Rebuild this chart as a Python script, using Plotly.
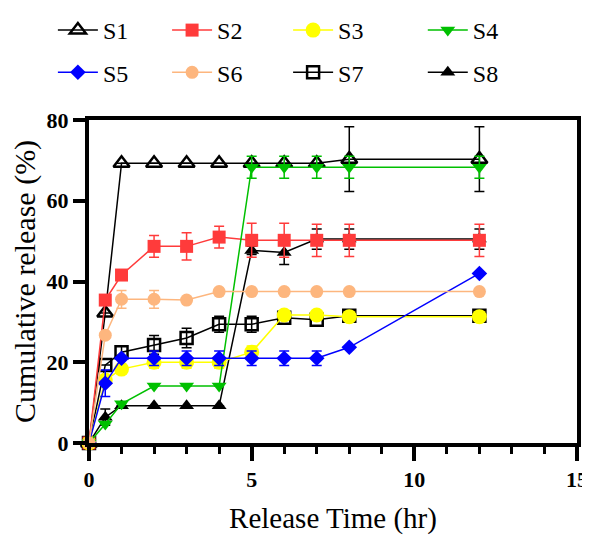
import plotly.graph_objects as go

time = [0, 0.5, 1, 2, 3, 4, 5, 6, 7, 8, 12]

s1 = [0, 32.2, 69.3, 69.3, 69.3, 69.3, 69.3, 69.3, 69.3, 70.3, 70.3]
s1_err = [None, None, None, None, None, None, None, None, None, 8, 8]
s2 = [0, 35.4, 41.6, 48.7, 48.7, 51.0, 50.2, 50.2, 50.2, 50.2, 50.2]
s2_err = [None, None, None, 2.7, 3.4, 2.7, 4.2, 4.2, 4.0, 4.0, 4.0]
s3 = [0, 15.6, 18.3, 20.0, 20.0, 20.0, 22.5, 31.7, 31.7, 31.3, 31.3]
s3_err = [None, None, None, 1.5, 1.5, 1.5, 1.5, None, None, None, None]
s4 = [0, 4.7, 9.7, 14.1, 14.1, 14.1, 68.3, 68.3, 68.3, 68.3, 68.3]
s4_err = [None, None, None, None, None, None, 2.7, 2.7, 2.7, 2.7, 2.7]
s5 = [0, 14.8, 21.0, 21.0, 21.0, 21.0, 21.0, 21.0, 21.0, 23.7, 42.0]
s5_err = [None, 3.3, None, 1.8, 1.8, 1.8, 1.8, 1.8, 1.8, None, None]
s6 = [0, 26.7, 35.6, 35.6, 35.4, 37.5, 37.5, 37.5, 37.5, 37.5, 37.5]
s6_err = [None, None, 2.2, 2.2, None, None, None, None, None, None, None]
s7 = [0, 19.3, 22.5, 24.3, 26.0, 29.4, 29.4, 31.0, 30.5, 31.5, 31.5]
s7_err = [None, None, 1.5, 2.3, 2.4, 2.0, 2.0, None, None, None, None]
s8 = [0, 6.4, 9.2, 9.2, 9.2, 9.2, 47.7, 47.2, 50.5, 50.5, 50.5]
s8_err = [None, 2.0, None, None, None, None, 1.0, 3.0, 2.5, 2.5, 2.5]

FONT = "Liberation Serif"

series = [
    # name, y, err, color, symbol, size, legend, rank
    ("S1", s1, s1_err, "#000000", "triangle-up-open", 14, "legend", 1),
    ("S7", s7, s7_err, "#000000", "square-open", 12, "legend3", 2),
    ("S8", s8, s8_err, "#000000", "triangle-up", 13, "legend4", 2),
    ("S2", s2, s2_err, "#FF3B3B", "square", 13, "legend2", 1),
    ("S3", s3, s3_err, "#FFFF00", "circle", 15, "legend3", 1),
    ("S4", s4, s4_err, "#00C000", "triangle-down", 13, "legend4", 1),
    ("S5", s5, s5_err, "#0000FF", "diamond", 12, "legend", 2),
    ("S6", s6, s6_err, "#FDB67E", "circle", 13, "legend2", 2),
]

fig = go.Figure()
for name, y, err, color, sym, size, leg, rank in series:
    open_ = sym.endswith("-open")
    fig.add_trace(go.Scatter(
        x=time, y=y, name=name, mode="lines+markers",
        line=dict(color=color, width=1.5),
        marker=dict(symbol=sym, size=size, color=color,
                    line=dict(color=color, width=2.5 if open_ else 0)),
        error_y=dict(type="data", array=err, color=color, thickness=1.5, width=5, visible=True),
        legend=leg, legendrank=rank, legendgroup=name,
        cliponaxis=False,
    ))

leg_common = dict(orientation="v", font=dict(family=FONT, size=24, color="#000"),
                  bgcolor="rgba(0,0,0,0)", tracegroupgap=8,
                  xref="paper", yref="container",
                  xanchor="left", yanchor="top", y=1.0, itemwidth=40)

# the page body adds an 8px offset, so the figure is 8px smaller than the window
fig.update_layout(
    width=582, height=527,
    margin=dict(l=81, r=13, t=112, b=92),
    plot_bgcolor="white", paper_bgcolor="white",
    legend=dict(x=-0.074, **leg_common),
    legend2=dict(x=0.160, **leg_common),
    legend3=dict(x=0.408, **leg_common),
    legend4=dict(x=0.684, **leg_common),
    xaxis=dict(range=[0, 15], tickvals=[0, 5, 10, 15], ticks="outside", ticklen=14, tickwidth=4,
               tickcolor="#000", showline=True, linewidth=4, linecolor="#000", mirror=True,
               showgrid=False, zeroline=False, automargin=False,
               minor=dict(tickvals=[1, 2, 3, 4, 6, 7, 8, 9, 11, 12, 13, 14], ticks="outside",
                          ticklen=7, tickwidth=3, tickcolor="#000"),
               tickfont=dict(family=FONT, size=22, color="#000", weight="bold"),
               title=dict(text="Release Time (hr)", standoff=20,
                          font=dict(family=FONT, size=29, color="#000"))),
    yaxis=dict(range=[0, 80], tickvals=[0, 20, 40, 60, 80], ticks="outside", ticklen=12, tickwidth=4,
               tickcolor="#000", showline=True, linewidth=4, linecolor="#000", mirror=True,
               showgrid=False, zeroline=False, automargin=False,
               tickfont=dict(family=FONT, size=22, color="#000", weight="bold"),
               title=dict(text="Cumulative release (%)", standoff=8,
                          font=dict(family=FONT, size=30, color="#000"))),
)

fig.write_html("out.html")
